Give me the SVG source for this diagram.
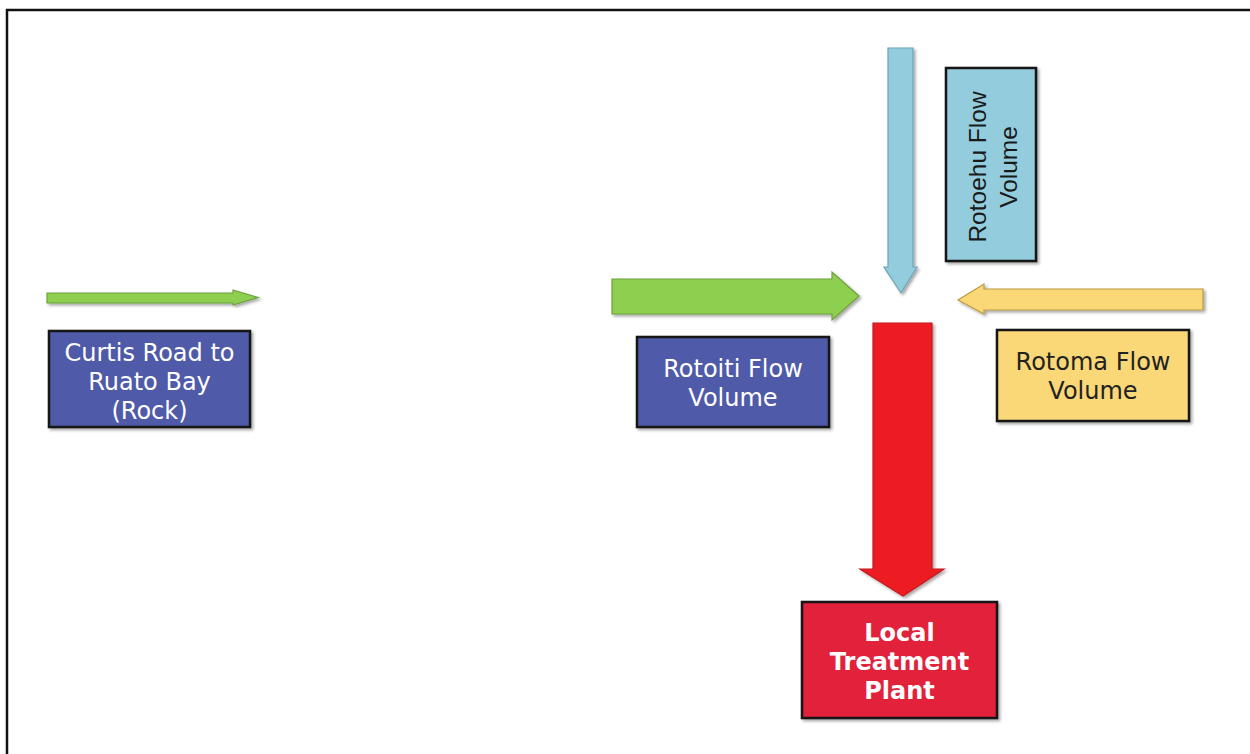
<svg xmlns="http://www.w3.org/2000/svg" width="1250" height="754" viewBox="0 0 1250 754">
<defs>
<filter id="sh" x="-20%" y="-20%" width="140%" height="140%">
<feDropShadow dx="2" dy="2" stdDeviation="1.5" flood-color="#000" flood-opacity="0.35"/>
</filter>
<style>
.box{stroke:#151515;stroke-width:2.5;filter:url(#sh)}
.blue{fill:#4f5aa8}
.yel{fill:#fad877}
.lblue{fill:#93cddd}
.red{fill:#e2203b}
.arr{filter:url(#sh);stroke-width:1.2}
.t{font-family:"DejaVu Sans",Verdana,sans-serif;font-size:24px;text-anchor:middle}
.w{fill:#ffffff}
.d{fill:#222222}
.b{font-weight:bold;font-size:24px}
.v{font-family:"Liberation Sans",Arial,sans-serif;font-size:24.5px;text-anchor:middle;fill:#1a1a1a}
</style>
</defs>
<rect width="1250" height="754" fill="#ffffff"/>
<path d="M7,754 V10 H1250" fill="none" stroke="#111" stroke-width="2.5"/>

<g id="connectors">
<polygon class="arr" points="47,293 233,293 233,290 258,297.5 233,305 233,303 47,303" fill="#8fcf50" stroke="#6d9f3c"/>
<polygon class="arr" points="612,279 832,279 832,272 859,296 832,320 832,314 612,314" fill="#8fcf50" stroke="#6d9f3c"/>
<polygon class="arr" points="888,48 913,48 913,267 917,267 901,293 884,267 888,267" fill="#93cddd" stroke="#6aa4b6"/>
<polygon class="arr" points="1203,289 984,289 984,284 958,300 984,314 984,310 1203,310" fill="#fad877" stroke="#b99a45"/>
<polygon class="arr" points="873,323 932,323 932,569 944,569 903,596 860,569 873,569" fill="#ed1c24" stroke="#c41a1f"/>
</g>

<g id="curtis">
<rect class="box blue" x="49" y="331" width="201" height="96"/>
<text class="t w" x="149.5" y="361">Curtis Road to</text>
<text class="t w" x="149.5" y="390">Ruato Bay</text>
<text class="t w" x="149.5" y="419">(Rock)</text>
</g>

<g id="rotoiti">
<rect class="box blue" x="637" y="337" width="192" height="90"/>
<text class="t w" x="733" y="377">Rotoiti Flow</text>
<text class="t w" x="733" y="406">Volume</text>
</g>

<g id="rotoehu">
<rect class="box lblue" x="946" y="68" width="90" height="193"/>
<g transform="translate(986,167) rotate(-90)">
<text class="v" x="0" y="0">Rotoehu Flow</text>
<text class="v" x="0" y="31">Volume</text>
</g>
</g>

<g id="rotoma">
<rect class="box yel" x="997" y="330" width="192" height="91"/>
<text class="t d" x="1093" y="370">Rotoma Flow</text>
<text class="t d" x="1093" y="399">Volume</text>
</g>

<g id="plant">
<rect class="box red" x="802" y="602" width="195" height="116"/>
<text class="t w b" x="899.5" y="641">Local</text>
<text class="t w b" x="899.5" y="670">Treatment</text>
<text class="t w b" x="899.5" y="699">Plant</text>
</g>
</svg>
